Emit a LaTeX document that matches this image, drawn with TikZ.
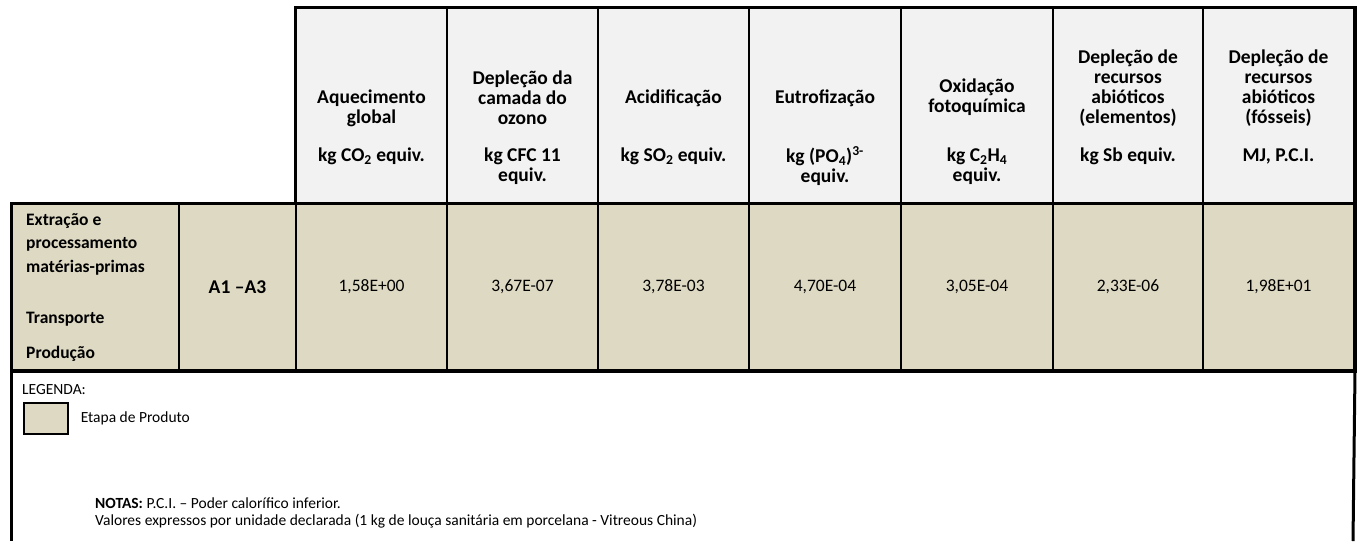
\documentclass[tikz,border=0pt]{standalone}
\usepackage{fontspec}
\setmainfont{Carlito}
\usepackage{tikz}
\usetikzlibrary{positioning}
\definecolor{headgrey}{HTML}{F2F2F2}
\definecolor{stagetan}{HTML}{DDD9C3}

\begin{document}
\begin{tikzpicture}[x=1pt,y=-1pt,
    txt/.style={inner sep=0pt,font=\fontsize{17.5}{20}\selectfont},
    headtxt/.style={inner sep=0pt,font=\bfseries\fontsize{19.5}{20}\selectfont,align=center},
    stagetxt/.style={inner sep=0pt,font=\bfseries\fontsize{17.5}{23.5}\selectfont,align=left,anchor=west},
    headcell/.style={draw,line width=2pt,fill=headgrey,inner sep=0pt,anchor=north west,minimum height=196pt},
    stagecell/.style={draw,line width=2pt,fill=stagetan,inner sep=0pt,anchor=north west,minimum height=166pt},
    legtxt/.style={inner sep=0pt,font=\fontsize{15.5}{18.5}\selectfont,anchor=west}]
    \useasboundingbox (0,0) rectangle (1359,541);

    % header row
    \node[headcell,minimum width=151pt] (aq) at (295,7) {};
    \node[headcell,minimum width=151pt] (oz) at (446,7) {};
    \node[headcell,minimum width=151pt] (ac) at (597,7) {};
    \node[headcell,minimum width=152pt] (eu) at (748,7) {};
    \node[headcell,minimum width=152pt] (ox) at (900,7) {};
    \node[headcell,minimum width=150pt] (re) at (1052,7) {};
    \node[headcell,minimum width=151pt] (rf) at (1202,7) {};
    \draw[line width=3pt] (aq.north west) rectangle (rf.south east);

    \node[headtxt] at ([yshift=-101pt]aq.north) {Aquecimento\\global};
    \node[headtxt] at ([yshift=-91pt]oz.north) {Depleção da\\camada do\\ozono};
    \node[headtxt] at ([yshift=-91pt]ac.north) {Acidificação};
    \node[headtxt] at ([yshift=-91pt]eu.north) {Eutrofização};
    \node[headtxt] at ([yshift=-90pt]ox.north) {Oxidação\\fotoquímica};
    \node[headtxt] at ([yshift=-81pt]re.north) {Depleção de\\recursos\\abióticos\\(elementos)};
    \node[headtxt] at ([yshift=-81pt]rf.north) {Depleção de\\recursos\\abióticos\\(fósseis)};

    \node[headtxt] at ([yshift=-149pt]aq.north) {kg CO\textsubscript{2} equiv.};
    \node[headtxt] at ([yshift=-159pt]oz.north) {kg CFC 11\\equiv.};
    \node[headtxt] at ([yshift=-149pt]ac.north) {kg SO\textsubscript{2} equiv.};
    \node[headtxt] at ([yshift=-159pt]eu.north) {kg (PO\textsubscript{4})\textsuperscript{3-}\\equiv.};
    \node[headtxt] at ([yshift=-159pt]ox.north) {kg C\textsubscript{2}H\textsubscript{4}\\equiv.};
    \node[headtxt] at ([yshift=-149pt]re.north) {kg Sb equiv.};
    \node[headtxt] at ([yshift=-149pt]rf.north) {MJ, P.C.I.};

    % product stage row
    \node[stagecell,minimum width=167pt] (etapa) at (11,203) {};
    \node[stagecell,minimum width=117pt] (modulo) at (178,203) {};
    \node[stagecell,minimum width=151pt] (vaq) at (295,203) {};
    \node[stagecell,minimum width=151pt] (voz) at (446,203) {};
    \node[stagecell,minimum width=151pt] (vac) at (597,203) {};
    \node[stagecell,minimum width=152pt] (veu) at (748,203) {};
    \node[stagecell,minimum width=152pt] (vox) at (900,203) {};
    \node[stagecell,minimum width=150pt] (vre) at (1052,203) {};
    \node[stagecell,minimum width=151pt] (vrf) at (1202,203) {};
    \draw[line width=3pt] (etapa.north west) rectangle (vrf.south east);

    \node[stagetxt] at ([xshift=15pt,yshift=-41pt]etapa.north west) {Extração e\\processamento\\matérias-primas};
    \node[stagetxt] at ([xshift=15pt,yshift=-116pt]etapa.north west) {Transporte};
    \node[stagetxt] at ([xshift=15pt,yshift=-151pt]etapa.north west) {Produção};
    \node[headtxt] at (modulo.center) {A1 –A3};

    \node[txt] at (vaq.center) {1,58E+00};
    \node[txt] at (voz.center) {3,67E-07};
    \node[txt] at (vac.center) {3,78E-03};
    \node[txt] at (veu.center) {4,70E-04};
    \node[txt] at (vox.center) {3,05E-04};
    \node[txt] at (vre.center) {2,33E-06};
    \node[txt] at (vrf.center) {1,98E+01};

    % legend
    \coordinate (legbl) at (11,541);
    \coordinate (legbr) at (1353,541);
    \draw[line width=3pt] (etapa.south west) -- (legbl);
    \draw[line width=3pt] (vrf.south east) -- (legbr);

    \node[legtxt] (legenda) at (22,390) {LEGENDA:};
    \node[draw,line width=1.6pt,fill=stagetan,inner sep=0pt,minimum width=44pt,minimum height=31pt,anchor=north west] (legbox) at (23,402) {};
    \node[legtxt,right=12pt of legbox] (legetapa) {Etapa de Produto};
    \node[legtxt] (notas) at (95,503) {\textbf{NOTAS:} P.C.I. – Poder calorífico inferior.};
    \node[legtxt] (valores) at (95,521) {Valores expressos por unidade declarada (1 kg de louça sanitária em porcelana - Vitreous China)};
\end{tikzpicture}
\end{document}
